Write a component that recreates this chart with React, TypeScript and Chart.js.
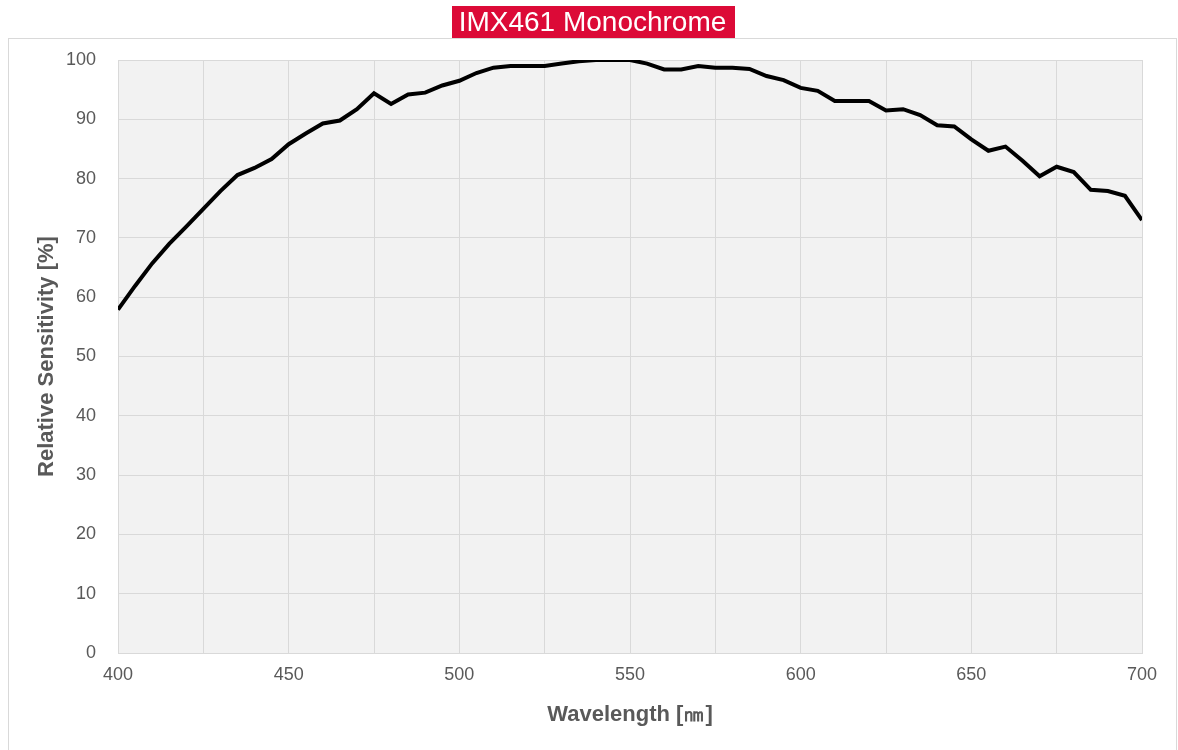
import React, { useEffect, useRef } from "react";
import { Chart, registerables } from "chart.js";

Chart.register(...registerables);

const TITLE = "IMX461 Monochrome";
const X_TITLE = "Wavelength [㎚]";
const Y_TITLE = "Relative Sensitivity [%]";

const wavelengths = [
  400, 405, 410, 415, 420, 425, 430, 435, 440, 445, 450, 455, 460, 465, 470, 475, 480, 485, 490, 495,
  500, 505, 510, 515, 520, 525, 530, 535, 540, 545, 550, 555, 560, 565, 570, 575, 580, 585, 590, 595,
  600, 605, 610, 615, 620, 625, 630, 635, 640, 645, 650, 655, 660, 665, 670, 675, 680, 685, 690, 695,
  700,
];

const sensitivity = [
  57.9, 61.9, 65.7, 69.0, 71.9, 74.9, 77.9, 80.6, 81.8, 83.3, 85.8, 87.6, 89.3, 89.8, 91.7, 94.4, 92.6, 94.2, 94.5, 95.7,
  96.5, 97.8, 98.7, 99.0, 99.0, 99.0, 99.4, 99.8, 100, 100, 100, 99.4, 98.4, 98.4, 99.0, 98.7, 98.7, 98.5, 97.3, 96.6,
  95.3, 94.8, 93.1, 93.1, 93.1, 91.5, 91.7, 90.7, 89.0, 88.8, 86.6, 84.7, 85.4, 83.0, 80.4, 82.0, 81.1, 78.1, 77.9, 77.1,
  73.0,
];

const xTicks = [400, 450, 500, 550, 600, 650, 700];

const FONT = "'Liberation Sans', Arial, Helvetica, sans-serif";

export default function App() {
  const ref = useRef<HTMLCanvasElement | null>(null);

  useEffect(() => {
    if (!ref.current) return;
    const decor = {
      id: "decor",
      beforeDraw(chart: any) {
        const { ctx, chartArea } = chart;
        ctx.save();
        ctx.fillStyle = "#ffffff";
        ctx.fillRect(0, 0, chart.width, chart.height);
        ctx.strokeStyle = "#d9d9d9";
        ctx.lineWidth = 1;
        ctx.strokeRect(8.5, 38.5, 1168, 730);
        ctx.fillStyle = "#f2f2f2";
        ctx.fillRect(chartArea.left, chartArea.top, chartArea.right - chartArea.left, chartArea.bottom - chartArea.top);
        ctx.restore();
      },
      afterDraw(chart: any) {
        const { ctx } = chart;
        ctx.save();
        ctx.fillStyle = "#dc0a37";
        ctx.fillRect(452, 6, 283, 32);
        ctx.fillStyle = "#ffffff";
        ctx.font = `28px ${FONT}`;
        ctx.textAlign = "center";
        ctx.textBaseline = "middle";
        ctx.fillText(TITLE, 592.5, 23);
        ctx.restore();
      },
    };

    const chart = new Chart(ref.current, {
      type: "line",
      data: {
        datasets: [
          {
            data: wavelengths.map((w, i) => ({ x: w, y: sensitivity[i] })),
            borderColor: "#000000",
            borderWidth: 4,
            pointRadius: 0,
            tension: 0,
            fill: false,
          },
        ],
      },
      options: {
        animation: false,
        responsive: false,
        layout: { padding: { top: 60, right: 36, left: 0, bottom: 0 } },
        plugins: { legend: { display: false }, tooltip: { enabled: false }, title: { display: false } },
        scales: {
          x: {
            type: "linear",
            min: 400,
            max: 700,
            afterFit: (s: any) => {
              s.height = 97;
            },
            ticks: {
              stepSize: 25,
              autoSkip: false,
              maxRotation: 0,
              padding: 11,
              color: "#595959",
              font: { family: FONT, size: 18 },
              callback: (v: any) => (xTicks.includes(Number(v)) ? String(v) : ""),
            },
            grid: { color: "#d9d9d9", lineWidth: 1, drawTicks: false },
            border: { display: true, color: "#d9d9d9" },
            title: {
              display: true,
              text: X_TITLE,
              color: "#595959",
              font: { family: FONT, size: 22, weight: "bold" },
              padding: { top: 0, bottom: 22 },
            },
          },
          y: {
            min: 0,
            max: 100,
            afterFit: (s: any) => {
              s.width = 118;
            },
            ticks: {
              stepSize: 10,
              padding: 22,
              color: "#595959",
              font: { family: FONT, size: 18 },
            },
            grid: { color: "#d9d9d9", lineWidth: 1, drawTicks: false },
            border: { display: true, color: "#d9d9d9" },
            title: {
              display: true,
              text: Y_TITLE,
              color: "#595959",
              font: { family: FONT, size: 22, weight: "bold" },
              padding: { top: 34, bottom: 0 },
            },
          },
        },
      },
      plugins: [decor],
    });
    return () => chart.destroy();
  }, []);

  return (
    <div style={{ position: "fixed", left: 0, top: 0, width: 1178, height: 750, background: "#fff" }}>
      <canvas ref={ref} width={1178} height={750} style={{ display: "block", width: 1178, height: 750 }} />
    </div>
  );
}
